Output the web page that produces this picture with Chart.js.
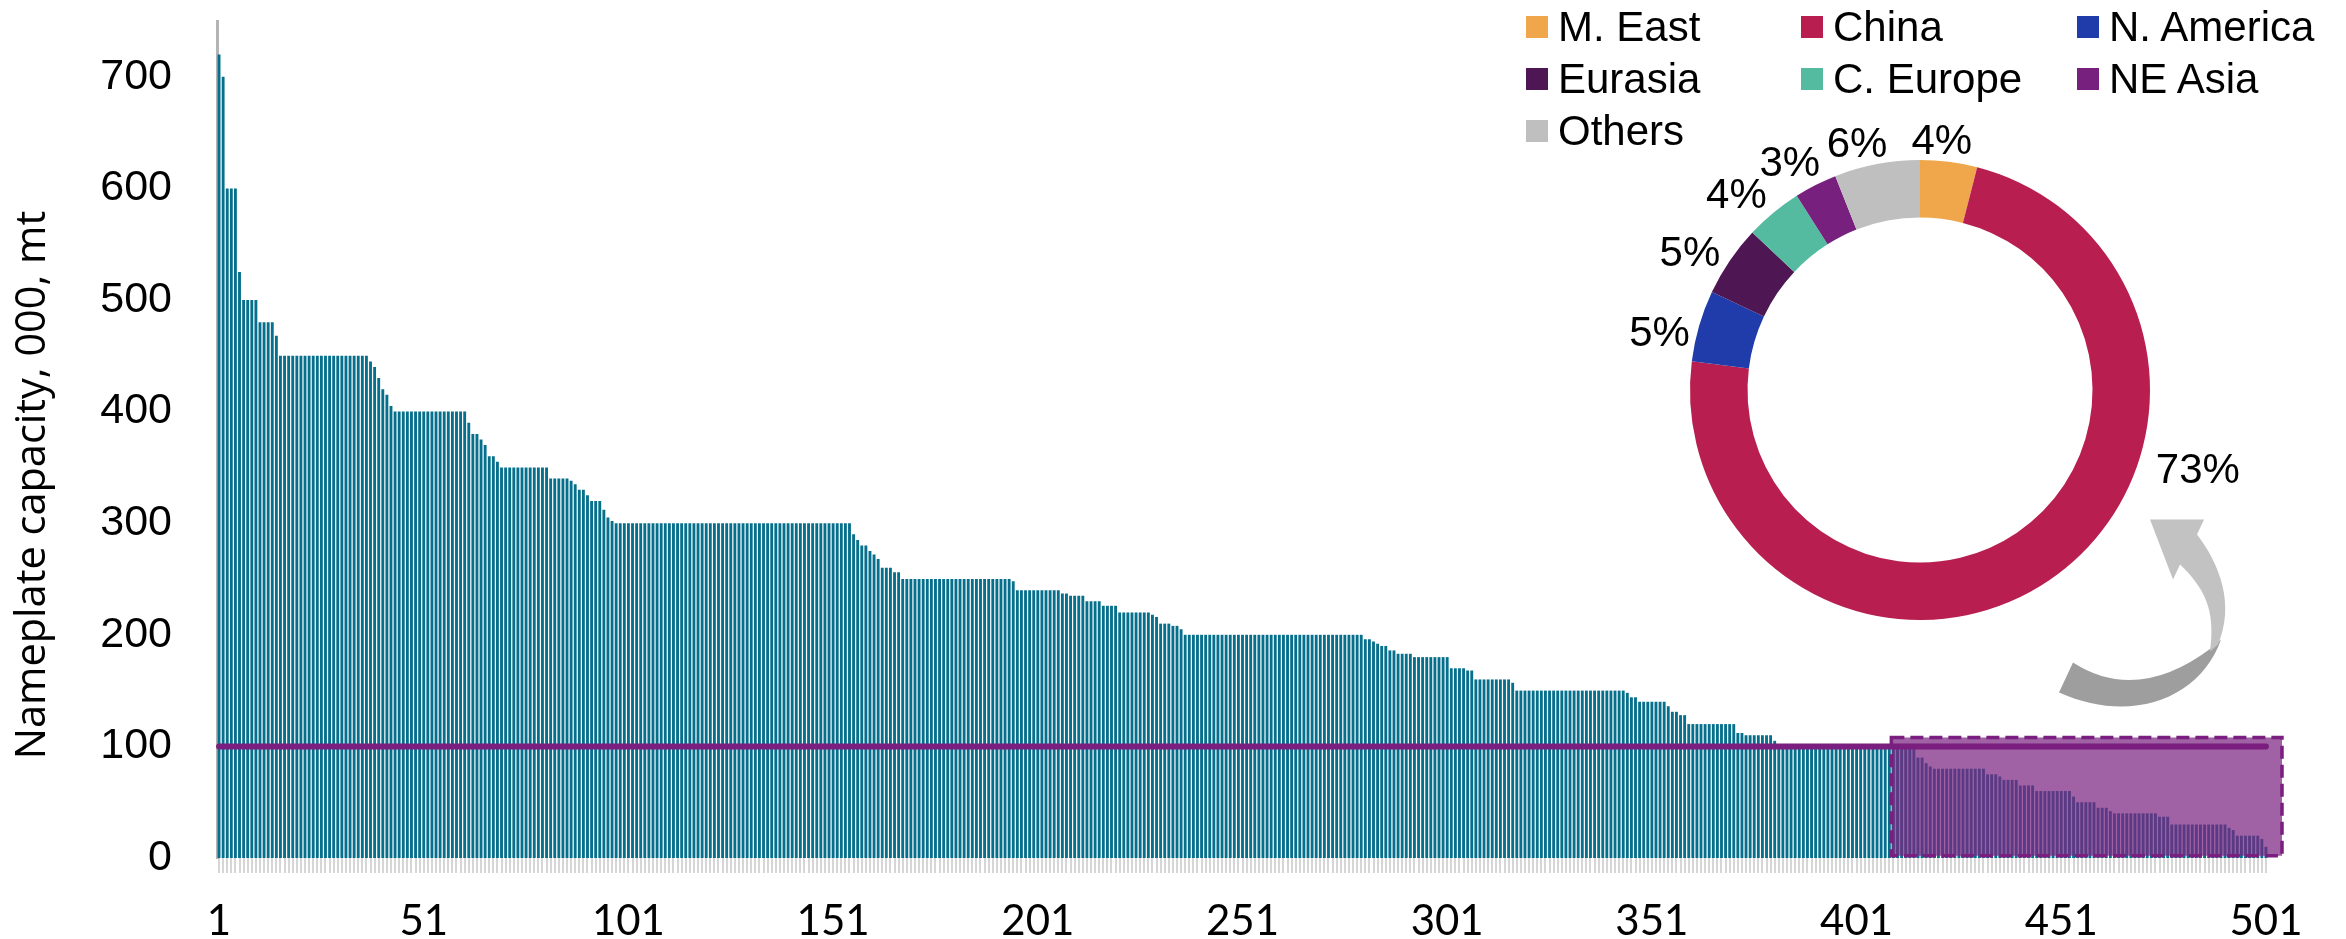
<!DOCTYPE html>
<html>
<head>
<meta charset="utf-8">
<title>Nameplate capacity by plant</title>
<script src="https://cdn.jsdelivr.net/npm/chart.js@4.4.1/dist/chart.umd.min.js"></script>
<style>
  html, body { margin: 0; padding: 0; background: #ffffff; }
  #stage { position: relative; width: 2346px; height: 939px; overflow: hidden; background: #ffffff; }
  #capacityChart { position: absolute; left: 0; top: 0; width: 2346px; height: 939px; }
  #shareChart { position: absolute; left: 1570px; top: 40px; width: 700px; height: 700px; }
  #shareLegend {
    position: absolute; left: 1526px; top: 1px;
    display: grid; grid-template-columns: 275px 276px auto; grid-auto-rows: 52px;
    font-family: "Liberation Sans", Arial, sans-serif; font-size: 42px; color: #000;
  }
  #shareLegend .item { display: flex; align-items: center; white-space: nowrap; }
  #shareLegend .swatch { width: 22px; height: 22px; margin-right: 10px; flex: none; }
</style>
</head>
<body>
<div id="stage">
  <canvas id="capacityChart" width="2346" height="939"></canvas>
  <canvas id="shareChart" width="700" height="700"></canvas>
  <div id="shareLegend"></div>
</div>
<script>
// Plant capacities (000 t), ranked from largest to smallest, stored as
// capacity levels and the number of consecutive plants at each level.
const capacityLevels = [
  720, 700, 600, 525, 500, 480, 468, 450, 445, 440,
  430, 420, 415, 405, 400, 390, 380, 375, 370, 360,
  355, 350, 340, 338, 335, 330, 325, 320, 312, 305,
  302, 300, 290, 285, 280, 275, 272, 268, 260, 256,
  250, 248, 240, 237, 235, 230, 226, 220, 218, 216,
  210, 208, 205, 200, 196, 194, 192, 190, 186, 183,
  180, 170, 168, 160, 157, 150, 148, 144, 140, 136,
  131, 128, 120, 112, 110, 105, 100, 90, 85, 82,
  80, 75, 73, 70, 65, 60, 55, 50, 45, 42,
  40, 37, 30, 27, 25, 20, 17, 10
];
const plantsPerLevel = [
  1, 1, 3, 1, 4, 4, 1, 22, 1, 1,
  1, 1, 1, 1, 18, 1, 2, 1, 1, 2,
  1, 12, 5, 1, 1, 2, 1, 3, 1, 1,
  1, 58, 1, 1, 2, 1, 1, 1, 3, 2,
  27, 1, 11, 2, 4, 4, 4, 8, 1, 1,
  3, 2, 1, 44, 2, 1, 1, 2, 2, 4,
  9, 4, 2, 9, 1, 27, 1, 2, 7, 1,
  2, 2, 12, 2, 7, 1, 34, 2, 1, 1,
  13, 3, 1, 4, 4, 9, 1, 5, 3, 1,
  11, 3, 14, 1, 1, 6, 1, 1
];
// Reference line level (000 t)
const thresholdLevel = 100;
// Rank labels printed on the horizontal axis
const rankTicks = ['1', '51', '101', '151', '201', '251', '301', '351', '401', '451', '501'];
// Y-axis tick values
const capacityTicks = [0, 100, 200, 300, 400, 500, 600, 700];

// Regional share of capacity (%)
const regions = ['M. East', 'China', 'N. America', 'Eurasia', 'C. Europe', 'NE Asia', 'Others'];
const regionShare = [4, 73, 5, 5, 4, 3, 6];
const regionColors = ['#f0a74b', '#b81f50', '#1f3caa', '#4e1753', '#55bba0', '#78207e', '#bfbfbf'];

// Expand the level runs into one value per plant
const plantCapacity = [];
capacityLevels.forEach((level, i) => {
  for (let k = 0; k < plantsPerLevel[i]; k++) plantCapacity.push(level);
});
const plantRank = plantCapacity.map((_, i) => String(i + 1));
const thresholdLine = plantCapacity.map(() => thresholdLevel);

// Shaded, dashed frame over the smallest plants, drawn between bars and line
const smallPlantFrame = {
  id: 'smallPlantFrame',
  afterDatasetDraw(chart, args, opts) {
    if (args.index !== 0) return;
    const { ctx } = chart;
    const xs = chart.scales.x, ys = chart.scales.y;
    const left = xs.getPixelForValue(opts.fromIndex - 0.5);
    const right = xs.getPixelForValue(opts.toIndex + 0.5) + opts.overhang;
    const top = ys.getPixelForValue(opts.ceiling);
    const bottom = ys.getPixelForValue(opts.floor);
    ctx.save();
    ctx.fillStyle = opts.fill;
    ctx.fillRect(left, top, right - left, bottom - top);
    ctx.setLineDash(opts.dash);
    ctx.lineWidth = opts.lineWidth;
    ctx.strokeStyle = opts.stroke;
    ctx.strokeRect(left, top, right - left, bottom - top);
    ctx.restore();
  }
};

// Vertical axis title
const sideTitle = {
  id: 'sideTitle',
  afterDraw(chart, args, opts) {
    const { ctx } = chart;
    ctx.save();
    ctx.translate(opts.x, opts.y);
    ctx.rotate(-Math.PI / 2);
    ctx.font = opts.font;
    ctx.fillStyle = opts.color;
    ctx.textAlign = 'center';
    ctx.textBaseline = 'middle';
    ctx.fillText(opts.text, 0, 0);
    ctx.restore();
  }
};

new Chart(document.getElementById('capacityChart'), {
  type: 'bar',
  data: {
    labels: plantRank,
    datasets: [
      {
        type: 'bar',
        label: 'Nameplate capacity',
        data: plantCapacity,
        backgroundColor: '#056f8c',
        borderWidth: 0,
        categoryPercentage: 1.0,
        barPercentage: 0.7,
        order: 2
      },
      {
        type: 'line',
        label: 'Threshold',
        data: thresholdLine,
        borderColor: '#7a1f80',
        borderWidth: 6,
        borderCapStyle: 'round',
        pointRadius: 0,
        fill: false,
        clip: false,
        order: 1
      }
    ]
  },
  options: {
    responsive: false,
    maintainAspectRatio: false,
    devicePixelRatio: 1,
    animation: false,
    events: [],
    layout: { padding: { left: 0, top: 21, right: 78, bottom: 0 } },
    plugins: {
      legend: { display: false },
      tooltip: { enabled: false },
      smallPlantFrame: {
        fromIndex: 409, toIndex: 500, overhang: 14,
        ceiling: 108, floor: 2,
        fill: 'rgba(123, 37, 129, 0.72)', stroke: '#7a1f80',
        lineWidth: 3.5, dash: [13, 6]
      },
      sideTitle: {
        text: 'Nameplate capacity, 000, mt',
        x: 33, y: 485,
        font: '41.5px "Open Sans", "Liberation Sans", sans-serif',
        color: '#000000'
      }
    },
    scales: {
      x: {
        offset: true,
        grid: {
          display: true, drawOnChartArea: false, drawTicks: true,
          tickLength: 15, color: '#d6d6d6', lineWidth: 2, offset: false
        },
        border: { display: false },
        ticks: {
          autoSkip: false, maxRotation: 0, minRotation: 0, padding: 23,
          color: '#000000',
          font: { family: 'Lato, "Open Sans", sans-serif', size: 42 },
          callback: function (value) {
            const lbl = this.getLabelForValue(value);
            return rankTicks.includes(lbl) ? lbl : '';
          }
        },
        afterFit: (scale) => {
          scale.height = 81;
          scale.paddingLeft = 0;
          scale.paddingRight = 0;
        }
      },
      y: {
        min: 0, max: 750,
        grid: { display: false, drawTicks: false },
        border: { display: true, color: '#b4b4b4', width: 3 },
        ticks: {
          padding: 45, color: '#000000',
          font: { family: '"Liberation Sans", Arial, sans-serif', size: 43 }
        },
        afterBuildTicks: (scale) => {
          scale.ticks = capacityTicks.map(v => ({ value: v }));
        },
        afterFit: (scale) => {
          scale.width = 217;
          scale.paddingTop = 0;
          scale.paddingBottom = 0;
        }
      }
    }
  },
  plugins: [smallPlantFrame, sideTitle]
});

// Percentage labels around the ring and the curved pointer arrow
const ringLabels = {
  id: 'ringLabels',
  afterDraw(chart, args, opts) {
    const { ctx } = chart;
    const meta = chart.getDatasetMeta(0);
    const values = chart.data.datasets[0].data;
    ctx.save();
    ctx.font = opts.font;
    ctx.fillStyle = opts.color;
    ctx.textAlign = 'center';
    ctx.textBaseline = 'middle';
    let cx = 0, cy = 0;
    meta.data.forEach((arc, i) => {
      const p = arc.getProps(['x', 'y', 'startAngle', 'endAngle', 'outerRadius'], true);
      cx = p.x; cy = p.y;
      const a = p.startAngle + opts.fraction[i] * (p.endAngle - p.startAngle);
      const txt = values[i] + '%';
      const w = ctx.measureText(txt).width;
      const h = opts.textHeight;
      const ux = Math.cos(a), uy = Math.sin(a);
      const ext = Math.abs(ux) * w / 2 + Math.abs(uy) * h / 2;
      const r = p.outerRadius + opts.gap[i] + ext;
      ctx.fillText(txt, p.x + r * ux, p.y + r * uy);
    });
    ctx.restore();

    // Curved arrow pointing from the shaded frame up to the ring
    const P = (dx, dy) => [cx + dx, cy + dy];
    ctx.save();
    ctx.fillStyle = opts.arrowBack;
    ctx.beginPath();
    ctx.moveTo(...P(153, 272.5));
    ctx.quadraticCurveTo(...P(217.5, 314), ...P(292, 257.5));
    ctx.lineTo(...P(301, 249.5));
    ctx.bezierCurveTo(...P(280, 309.5), ...P(210, 334.5), ...P(139, 302.5));
    ctx.closePath();
    ctx.fill();

    ctx.fillStyle = opts.arrowFront;
    ctx.beginPath();
    ctx.moveTo(...P(230, 129.5));
    ctx.lineTo(...P(284, 129.5));
    ctx.lineTo(...P(277, 144.5));
    ctx.bezierCurveTo(...P(300, 174.5), ...P(315, 214.5), ...P(298, 254.5));
    ctx.lineTo(...P(290, 261.5));
    ctx.bezierCurveTo(...P(296, 219.5), ...P(284, 197.5), ...P(260, 174.5));
    ctx.lineTo(...P(253, 189.5));
    ctx.closePath();
    ctx.fill();
    ctx.restore();
  }
};

const shareChart = new Chart(document.getElementById('shareChart'), {
  type: 'doughnut',
  data: {
    labels: regions,
    datasets: [{
      data: regionShare,
      backgroundColor: regionColors,
      borderWidth: 0,
      hoverOffset: 0
    }]
  },
  options: {
    responsive: false,
    maintainAspectRatio: false,
    devicePixelRatio: 1,
    animation: false,
    events: [],
    cutout: '75%',
    layout: { padding: 120 },
    plugins: {
      legend: { display: false },
      tooltip: { enabled: false },
      ringLabels: {
        font: '42px "Liberation Sans", Arial, sans-serif',
        color: '#000000',
        textHeight: 30,
        fraction: [0.35, 0.35, 0.27, 0.3, 0.23, 0.22, 0.33],
        gap: [1, 15, 3.5, 3.5, 5, 2, 0],
        arrowFront: '#c2c2c2',
        arrowBack: '#9e9e9e'
      }
    }
  },
  plugins: [ringLabels]
});

// Legend laid out in three columns from the ring's labels and colours
const legendBox = document.getElementById('shareLegend');
shareChart.data.labels.forEach((name, i) => {
  const item = document.createElement('div');
  item.className = 'item';
  const sw = document.createElement('span');
  sw.className = 'swatch';
  sw.style.background = shareChart.data.datasets[0].backgroundColor[i];
  const tx = document.createElement('span');
  tx.textContent = name;
  item.appendChild(sw);
  item.appendChild(tx);
  legendBox.appendChild(item);
});
</script>
</body>
</html>
